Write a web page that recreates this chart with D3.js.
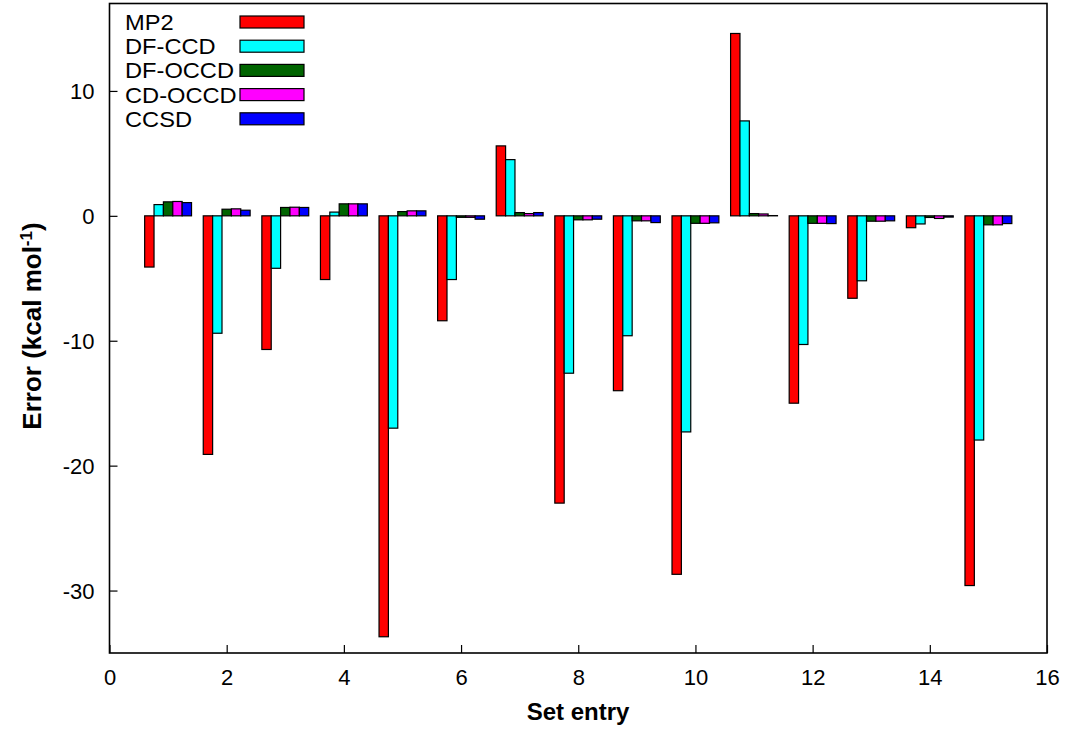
<!DOCTYPE html>
<html>
<head>
<meta charset="utf-8">
<script src="https://cdn.jsdelivr.net/npm/d3@7"></script>
<style>
  html, body { margin: 0; padding: 0; background: #fff; }
  svg { display: block; }
  text { font-family: "Liberation Sans", Arial, Helvetica, sans-serif; fill: #000; }
</style>
</head>
<body>
<svg id="chart" width="1067" height="734"></svg>
<script>
// Set entries (x positions of each group)
const entries = [1, 2, 3, 4, 5, 6, 7, 8, 9, 10, 11, 12, 13, 14, 15];

// Errors in kcal/mol for each method
const mp2    = [-4.1, -19.1, -10.7, -5.1, -33.7, -8.4, 5.6, -23.0, -14.0, -28.7, 14.6, -15.0, -6.6, -0.95, -29.6];
const dfCcd  = [0.9, -9.4, -4.2, 0.3, -17.0, -5.1, 4.5, -12.6, -9.6, -17.3, 7.6, -10.3, -5.2, -0.65, -17.95];
const dfOccd = [1.12, 0.53, 0.67, 0.96, 0.34, -0.12, 0.26, -0.32, -0.4, -0.6, 0.18, -0.6, -0.43, -0.13, -0.72];
const cdOccd = [1.15, 0.56, 0.69, 0.96, 0.4, -0.12, 0.18, -0.32, -0.4, -0.6, 0.15, -0.6, -0.43, -0.21, -0.72];
const ccsd   = [1.06, 0.45, 0.67, 0.96, 0.4, -0.27, 0.26, -0.27, -0.54, -0.56, 0.02, -0.62, -0.4, -0.1, -0.62];

const seriesNames  = ["MP2", "DF-CCD", "DF-OCCD", "CD-OCCD", "CCSD"];
const seriesValues = [mp2, dfCcd, dfOccd, cdOccd, ccsd];
const seriesColors = ["#ff0000", "#00ffff", "#006400", "#ff00ff", "#0000ff"];

const xTicks = [0, 2, 4, 6, 8, 10, 12, 14, 16];
const yTicks = [-30, -20, -10, 0, 10];

const xDomain = [0, 16];
const yDomain = [-35, 17];

// Plot frame
const plotLeft = 109.5, plotRight = 1047, plotTop = 3.5, plotBottom = 653;
const groupWidth = 0.8;
const barWidth = groupWidth / seriesNames.length;

const svg = d3.select("#chart");

const x = d3.scaleLinear().domain(xDomain).range([plotLeft, plotRight]);
const y = d3.scaleLinear().domain(yDomain).range([plotBottom, plotTop]);

// Bars: one per method inside each set-entry group
const barData = [];
seriesValues.forEach((vals, s) => {
  vals.forEach((v, i) => {
    barData.push({ s, entry: entries[i], value: v });
  });
});

const barX0 = d => d.entry - groupWidth / 2 + d.s * barWidth;

svg.append("g")
  .selectAll("rect")
  .data(barData)
  .join("rect")
  .attr("x", d => x(barX0(d)))
  .attr("width", d => x(barX0(d) + barWidth) - x(barX0(d)))
  .attr("y", d => Math.min(y(d.value), y(0)))
  .attr("height", d => Math.abs(y(d.value) - y(0)))
  .attr("fill", d => seriesColors[d.s])
  .attr("stroke", "#000")
  .attr("stroke-width", 1.2);

// Plain hyphen-minus for negative tick labels
const tickFmt = d => String(d);

// Axes with inward ticks
const xAxis = d3.axisBottom(x).tickValues(xTicks).tickSize(-8).tickPadding(16).tickFormat(tickFmt);
const yAxis = d3.axisLeft(y).tickValues(yTicks).tickSize(-8).tickPadding(15).tickFormat(tickFmt);

const gx = svg.append("g").attr("transform", `translate(0,${plotBottom})`).call(xAxis);
const gy = svg.append("g").attr("transform", `translate(${plotLeft},0)`).call(yAxis);

[gx, gy].forEach(g => {
  g.select(".domain").remove();
  g.selectAll(".tick line").attr("stroke", "#000").attr("stroke-width", 1.2);
  g.selectAll(".tick text")
    .attr("font-size", 22)
    .attr("font-family", "'Liberation Sans', Arial, sans-serif")
    .attr("fill", "#000");
});
gx.selectAll(".tick text").attr("dy", "0.71em");
gy.selectAll(".tick text").attr("dy", "0.34em");

// Frame border
svg.append("rect")
  .attr("x", plotLeft).attr("y", plotTop)
  .attr("width", plotRight - plotLeft).attr("height", plotBottom - plotTop)
  .attr("fill", "none")
  .attr("stroke", "#000")
  .attr("stroke-width", 1.6);

// Axis titles
svg.append("text")
  .attr("x", 578)
  .attr("y", 720)
  .attr("text-anchor", "middle")
  .attr("font-size", 24)
  .attr("font-weight", "bold")
  .text("Set entry");

const yLabel = svg.append("text")
  .attr("transform", `translate(41,326) rotate(-90)`)
  .attr("text-anchor", "middle")
  .attr("font-size", 26)
  .attr("font-weight", "bold");
yLabel.append("tspan").text("Error (kcal mol");
yLabel.append("tspan").attr("baseline-shift", "super").attr("font-size", 17).text("-1");
yLabel.append("tspan").text(")");

// Legend: names on the left, colour swatches on the right
const legend = svg.append("g");
seriesNames.forEach((name, s) => {
  const rowY = 22 + s * 24.2;
  legend.append("text")
    .attr("transform", `translate(125,${rowY + 8}) scale(1.1,1)`)
    .attr("font-size", 21.5)
    .text(name);
  legend.append("rect")
    .attr("x", 240).attr("y", rowY - 6)
    .attr("width", 64).attr("height", 12)
    .attr("fill", seriesColors[s])
    .attr("stroke", "#000")
    .attr("stroke-width", 1.2);
});
</script>
</body>
</html>
